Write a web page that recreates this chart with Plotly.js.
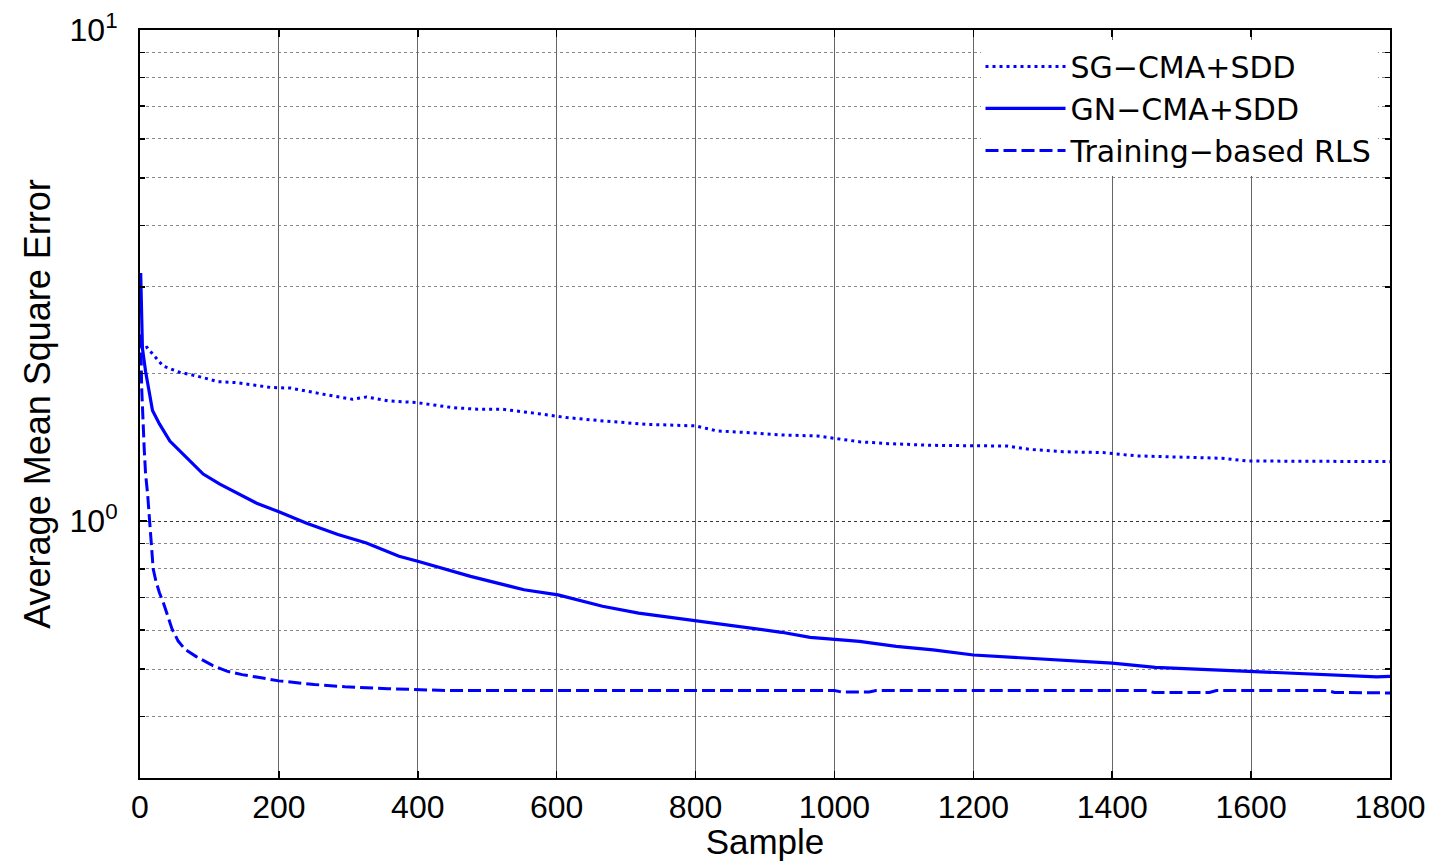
<!DOCTYPE html>
<html>
<head>
<meta charset="utf-8">
<script src="https://cdn.plot.ly/plotly-3.0.1.min.js"></script>
<style>html,body{margin:0;padding:0;background:#fff;}#chart{width:1430px;height:861px;}</style>
</head>
<body>
<div id="chart"></div>
<script>
// Series names
const seriesNames = ["SG\u2212CMA+SDD", "GN\u2212CMA+SDD", "Training\u2212based RLS"];

// SG-CMA+SDD (dotted)
const sgX = [1, 3, 10, 18, 33, 57, 81, 113, 139, 188, 217, 264, 306, 326, 357, 398, 450, 486, 522, 574, 615, 667, 728, 800, 831, 873, 924, 976, 1011, 1036, 1078, 1142, 1249, 1281, 1329, 1387, 1435, 1515, 1558, 1595, 1717, 1800];
const sgY = [2.35, 2.24, 2.26, 2.19, 2.07, 2.01, 1.976, 1.923, 1.915, 1.872, 1.866, 1.813, 1.771, 1.790, 1.758, 1.744, 1.703, 1.690, 1.690, 1.655, 1.625, 1.600, 1.575, 1.563, 1.527, 1.515, 1.498, 1.491, 1.468, 1.451, 1.438, 1.427, 1.422, 1.400, 1.385, 1.379, 1.358, 1.347, 1.343, 1.326, 1.326, 1.322];

// GN-CMA+SDD (solid)
const gnX = [1, 2, 3.5, 8, 18, 28, 43, 62, 91, 115, 144, 168, 200, 240, 285, 326, 373, 400, 476, 553, 602, 666, 718, 800, 862, 924, 965, 1000, 1036, 1089, 1142, 1200, 1281, 1355, 1400, 1462, 1547, 1600, 1675, 1781, 1800];
const gnY = [3.2, 2.6, 2.25, 2.02, 1.68, 1.578, 1.456, 1.370, 1.247, 1.19, 1.135, 1.088, 1.045, 0.99, 0.939, 0.903, 0.848, 0.829, 0.772, 0.725, 0.708, 0.671, 0.650, 0.627, 0.609, 0.594, 0.580, 0.575, 0.569, 0.556, 0.547, 0.534, 0.526, 0.518, 0.514, 0.504, 0.498, 0.494, 0.488, 0.482, 0.483];

// Training-based RLS (dashed)
const rlsX = [1, 2.4, 6, 8, 11, 14, 17, 19, 23, 28, 34, 46, 55, 65, 81, 105, 125, 147, 170, 200, 251, 295, 357, 440, 1000, 1010, 1050, 1060, 1450, 1460, 1540, 1550, 1710, 1720, 1800];
const rlsY = [2.4, 1.87, 1.41, 1.25, 1.134, 1.0, 0.87, 0.80, 0.754, 0.715, 0.68, 0.604, 0.57, 0.548, 0.530, 0.508, 0.495, 0.487, 0.481, 0.473, 0.465, 0.460, 0.456, 0.452, 0.452, 0.449, 0.449, 0.452, 0.452, 0.448, 0.448, 0.452, 0.452, 0.448, 0.447];

// Axis ticks
const xTicks = [0, 200, 400, 600, 800, 1000, 1200, 1400, 1600, 1800];
const yMajorVals = [1, 10];
const yMajorText = ["10<sup>0</sup>", "10<sup>1</sup>"];
const yMinorVals = [0.3, 0.4, 0.5, 0.6, 0.7, 0.8, 0.9, 2, 3, 4, 5, 6, 7, 8, 9];

const blue = "#0000ff";
const traces = [
  {x: sgX, y: sgY, name: seriesNames[0], mode: "lines", line: {color: blue, width: 3, dash: "3px,4px"}},
  {x: gnX, y: gnY, name: seriesNames[1], mode: "lines", line: {color: blue, width: 3.2}},
  {x: rlsX, y: rlsY, name: seriesNames[2], mode: "lines", line: {color: blue, width: 3, dash: "13px,5px"}}
];

const font = "Liberation Sans, Arial, sans-serif";
const layout = {
  width: 1430, height: 861,
  margin: {l: 140, r: 40, t: 30, b: 83},
  paper_bgcolor: "#fff", plot_bgcolor: "#fff",
  showlegend: true,
  legend: {
    x: 0.99, y: 0.986, xanchor: "right", yanchor: "top",
    bgcolor: "#fff", borderwidth: 0,
    itemwidth: 80,
    font: {family: "DejaVu Sans, sans-serif", size: 30, color: "#000"},
    tracegroupgap: 0
  },
  xaxis: {
    range: [0, 1800], tickvals: xTicks, ticktext: xTicks.map(String),
    ticks: "inside", ticklen: 7, tickcolor: "#000", tickwidth: 1.5,
    showline: true, linecolor: "#000", linewidth: 2, mirror: "ticks",
    showgrid: true, gridcolor: "#666", gridwidth: 1,
    zeroline: false,
    tickfont: {family: font, size: 32, color: "#000"},
    title: {text: "Sample", font: {family: font, size: 35, color: "#000"}, standoff: 2}
  },
  yaxis: {
    type: "log", range: [Math.log10(0.3), 1],
    tickvals: yMajorVals, ticktext: yMajorText,
    ticks: "inside", ticklen: 7, tickcolor: "#000", tickwidth: 1.5,
    ticklabelstandoff: 14,
    showline: true, linecolor: "#000", linewidth: 2, mirror: "ticks",
    showgrid: true, gridcolor: "#333", gridwidth: 1, griddash: "dot",
    zeroline: false,
    tickfont: {family: font, size: 32, color: "#000"},
    minor: {tickvals: yMinorVals, ticks: "inside", ticklen: 5, tickcolor: "#000", showgrid: true, gridcolor: "#888", gridwidth: 1, griddash: "dot"},
    title: {text: "Average Mean Square Error", font: {family: font, size: 36, color: "#000"}, standoff: 8}
  }
};

Plotly.newPlot("chart", traces, layout, {displayModeBar: false, staticPlot: true});
</script>
</body>
</html>
